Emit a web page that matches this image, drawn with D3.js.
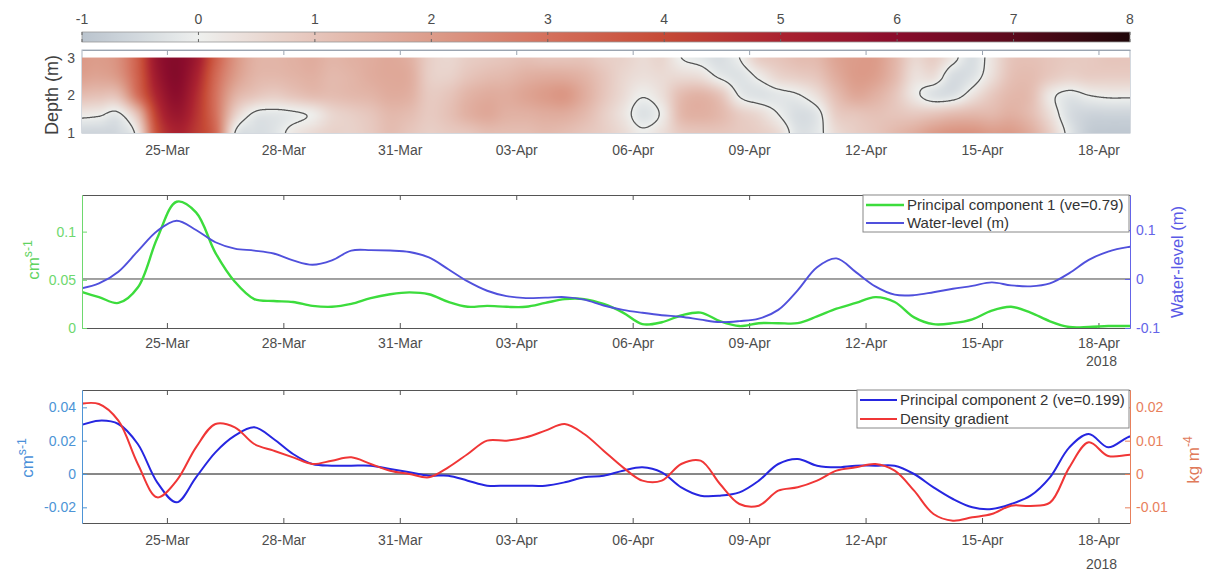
<!DOCTYPE html>
<html><head><meta charset="utf-8">
<script src="https://cdn.jsdelivr.net/npm/d3@7"></script>
<style>
body{margin:0;background:#fff;}
svg{display:block;font-family:"Liberation Sans",Arial,Helvetica,sans-serif;}
</style></head><body>
<svg id="c" width="1215" height="574"></svg>
<script>
// ---------------- DATA ----------------
// common 12-hourly time stamps (UTC)
const times = ["2018-03-22T18","2018-03-23T06","2018-03-23T18","2018-03-24T06","2018-03-24T18","2018-03-25T06","2018-03-25T18","2018-03-26T06","2018-03-26T18","2018-03-27T06",
"2018-03-27T18","2018-03-28T06","2018-03-28T18","2018-03-29T06","2018-03-29T18","2018-03-30T06","2018-03-30T18","2018-03-31T06","2018-03-31T18","2018-04-01T06",
"2018-04-01T18","2018-04-02T06","2018-04-02T18","2018-04-03T06","2018-04-03T18","2018-04-04T06","2018-04-04T18","2018-04-05T06","2018-04-05T18","2018-04-06T06",
"2018-04-06T18","2018-04-07T06","2018-04-07T18","2018-04-08T06","2018-04-08T18","2018-04-09T06","2018-04-09T18","2018-04-10T06","2018-04-10T18","2018-04-11T06",
"2018-04-11T18","2018-04-12T06","2018-04-12T18","2018-04-13T06","2018-04-13T18","2018-04-14T06","2018-04-14T18","2018-04-15T06","2018-04-15T18","2018-04-16T06",
"2018-04-16T18","2018-04-17T06","2018-04-17T18","2018-04-18T06","2018-04-18T18","2018-04-19T06"];

// heat-map field (top panel), one array per depth
const heatDepths = [3, 2.5, 2, 1.5, 1];
const heat_3m   = [2.1,2.0,2.3,3.5,5.6,6.1,5.4,3.5,2.2,1.5, 1.4,1.5,1.6,1.4,1.5,1.6,1.7,1.5,0.8,0.6, 0.8,0.9,1.0,1.1,1.0,1.0,1.0,0.8,0.7,0.5, 0.6,0.0,-0.2,-0.4,0.0,0.8,1.0,1.2,1.3,1.8, 2.0,2.0,1.4,0.6,0.8,0.2,-0.4,0.3,1.0,1.1, 1.0,0.9,0.9,1.0,1.0,1.0];
const heat_2_5m = [1.9,1.8,2.1,3.4,5.4,6.1,5.1,3.2,2.0,1.4, 1.3,1.4,1.5,1.3,1.4,1.6,1.7,1.6,0.8,0.7, 1.0,1.2,1.3,1.5,1.6,1.6,1.4,1.0,0.6,0.4, 0.5,0.5,0.4,-0.1,-0.3,0.1,0.6,0.8,1.0,1.6, 2.0,1.9,1.3,0.4,0.4,-0.4,-0.3,0.4,1.1,1.2, 0.9,0.7,0.8,0.8,0.8,0.8];
const heat_2m   = [1.2,1.1,1.2,3.0,5.0,5.9,4.8,3.0,1.5,1.0, 0.8,1.0,1.2,1.2,1.3,1.4,1.6,1.5,0.9,1.0, 1.4,1.6,1.6,1.8,2.0,2.1,1.6,1.0,0.5,0.05, 0.4,1.2,1.4,1.0,-0.05,-0.3,-0.2,-0.05,0.4,1.2, 1.7,1.5,1.0,0.2,-0.3,-0.3,0.3,0.9,1.3,1.2, 0.2,-0.2,0.0,0.1,0.1,0.1];
const heat_1_5m = [0.2,0.1,-0.1,1.2,4.4,5.5,4.6,3.0,0.8,-0.1, -0.2,-0.1,0.1,0.6,0.8,1.0,1.3,1.2,0.9,1.1, 1.5,1.7,1.5,1.5,1.6,1.6,1.3,0.8,0.3,-0.3, 0.1,1.3,1.5,1.3,0.8,0.5,0.0,-0.4,-0.2,0.8, 1.0,1.1,1.0,0.9,1.0,1.2,1.3,1.3,1.5,1.2, 0.4,-0.4,-0.6,-0.6,-0.6,-0.6];
const heat_1m   = [-0.6,-0.6,-0.5,0.3,3.9,5.0,4.4,3.2,0.0,-0.4, -0.3,0.2,0.5,0.7,0.7,0.9,1.2,1.0,0.8,0.9, 1.0,1.2,1.2,1.2,1.3,1.2,1.0,0.8,0.5,0.1, 0.4,0.9,1.0,1.0,0.9,0.8,0.5,-0.3,-0.2,0.5, 0.8,1.0,1.3,1.6,2.0,2.2,2.2,2.0,2.0,1.6, 0.8,-0.2,-0.8,-0.9,-0.9,-0.9];

// middle panel
const pc1 = [0.038,0.032,0.026,0.042,0.093,0.131,0.120,0.078,0.048,0.030, 0.028,0.027,0.023,0.022,0.025,0.031,0.035,0.037,0.035,0.027, 0.022,0.023,0.022,0.022,0.026,0.030,0.030,0.025,0.016,0.004, 0.006,0.013,0.016,0.007,0.002,0.005,0.005,0.005,0.012,0.020, 0.026,0.032,0.027,0.011,0.004,0.005,0.009,0.018,0.022,0.016, 0.007,0.001,0.001,0.002,0.002,0.002];
const waterLevel = [-0.020,-0.009,0.015,0.057,0.098,0.119,0.100,0.075,0.062,0.058, 0.052,0.038,0.029,0.038,0.058,0.059,0.058,0.055,0.044,0.020, -0.005,-0.024,-0.035,-0.039,-0.038,-0.037,-0.042,-0.054,-0.063,-0.069, -0.074,-0.077,-0.083,-0.088,-0.086,-0.081,-0.063,-0.023,0.024,0.042, 0.014,-0.015,-0.032,-0.033,-0.027,-0.020,-0.014,-0.007,-0.013,-0.015, -0.009,0.012,0.039,0.056,0.065,0.069];

// bottom panel
const pc2 = [0.029,0.032,0.030,0.018,-0.005,-0.017,-0.002,0.013,0.023,0.028, 0.021,0.012,0.006,0.005,0.005,0.005,0.003,0.001,-0.001,-0.001, -0.004,-0.007,-0.007,-0.007,-0.007,-0.005,-0.002,-0.001,0.002,0.004, 0.001,-0.008,-0.013,-0.013,-0.011,-0.004,0.006,0.009,0.005,0.004, 0.005,0.005,0.005,0.000,-0.008,-0.015,-0.020,-0.021,-0.018,-0.013, -0.002,0.016,0.024,0.016,0.022,0.026];
const densityGrad = [0.021,0.021,0.016,0.003,-0.007,-0.002,0.008,0.015,0.014,0.009, 0.007,0.005,0.003,0.004,0.005,0.003,0.001,0.000,-0.001,0.002, 0.006,0.010,0.010,0.011,0.013,0.015,0.012,0.007,0.002,-0.002, -0.002,0.003,0.004,-0.003,-0.009,-0.0095,-0.005,-0.004,-0.002,0.001, 0.002,0.003,0.001,-0.005,-0.012,-0.014,-0.013,-0.012,-0.0095,-0.0096, -0.0086,0.002,0.0095,0.0054,0.0057,0.0063];

// ticks / labels
const dateTicks = ["2018-03-25","2018-03-28","2018-03-31","2018-04-03","2018-04-06","2018-04-09","2018-04-12","2018-04-15","2018-04-18"];
const yearLabel = "2018";
const colorbarTicks = [-1,0,1,2,3,4,5,6,7,8];
const depthTicks = [1,2,3];
const pc1Ticks = [0,0.05,0.1];
const wlTicks = [-0.1,0,0.1];
const pc2Ticks = [-0.02,0,0.02,0.04];
const dgTicks = [-0.01,0,0.01,0.02];
const legend1 = ["Principal component 1 (ve=0.79)","Water-level (m)"];
const legend2 = ["Principal component 2 (ve=0.199)","Density gradient"];
// colormap
const cmapStops  = [-1,-0.5,0,1,2,3,4,5,6,7,8];
const cmapColors = ["#bac4ce","#d3d9de","#eef0ee","#e6c5bb","#dc9c8a","#d4705c","#c64a36","#aa2230","#8a0c2c","#5a0a1c","#1e0608"];

// ---------------- LAYOUT ----------------
const svg = d3.select("#c");
const X0 = 82, X1 = 1130;
const grey = "#4d4d4d";
const T = times.map(d3.utcParse("%Y-%m-%dT%H"));
const tickDates = dateTicks.map(d3.utcParse("%Y-%m-%d"));
const x = d3.scaleUtc().domain([new Date(Date.UTC(2018,2,22,19,30)), new Date(Date.UTC(2018,3,18,19,30))]).range([X0, X1]);
const fmt = d3.utcFormat("%d-%b");
const num = d => String(d);
const cmap = d3.scaleLinear().domain(cmapStops).range(cmapColors).interpolate(d3.interpolateRgb).clamp(true);

function styleAxis(g, color, fs){
  g.attr("font-family", null).attr("font-size", fs || 14);
  g.select(".domain").attr("stroke", color);
  g.selectAll(".tick line").attr("stroke", color);
  g.selectAll(".tick text").attr("fill", color === "#555" ? grey : color);
}
function dateAxes(top, bottom, pad, year){
  const gb = svg.append("g").attr("transform",`translate(0,${bottom})`)
    .call(d3.axisBottom(x).tickValues(tickDates).tickFormat(fmt).tickSizeInner(-5).tickSizeOuter(0).tickPadding(pad));
  styleAxis(gb, "#555");
  const gt = svg.append("g").attr("transform",`translate(0,${top})`)
    .call(d3.axisTop(x).tickValues(tickDates).tickFormat("").tickSizeInner(-5).tickSizeOuter(0));
  styleAxis(gt, "#555");
  if (year) svg.append("text").attr("x", x(tickDates[tickDates.length-1]) + 3).attr("y", year)
    .attr("text-anchor","middle").attr("font-size",14).attr("fill",grey).text(yearLabel);
  return [gb, gt];
}
function vLabel(cx, cy, parts, color, fs){
  const t = svg.append("text").attr("transform",`translate(${cx},${cy}) rotate(-90)`)
    .attr("text-anchor","middle").attr("fill",color).attr("font-size",fs);
  parts.forEach(p => {
    const s = t.append("tspan").text(p[0]);
    if (p[1]) s.attr("baseline-shift","super").attr("font-size", fs*0.72);
  });
}

// ---------------- COLORBAR ----------------
const cb = d3.scaleLinear().domain([-1,8]).range([X0, X1]);
const CB0 = 32, CB1 = 42;
const grad = svg.append("defs").append("linearGradient").attr("id","cbg");
d3.range(0, 91).forEach(i => { const v = -1 + i*0.1;
  grad.append("stop").attr("offset", (i/90)).attr("stop-color", cmap(v)); });
svg.append("rect").attr("x",X0).attr("y",CB0).attr("width",X1-X0).attr("height",CB1-CB0)
  .attr("fill","url(#cbg)").attr("stroke","#9a9a9a").attr("stroke-width",0.8);
svg.append("g").selectAll("line.cbt").data(colorbarTicks).join("line")
  .attr("x1",d=>cb(d)).attr("x2",d=>cb(d)).attr("y1",CB1-3).attr("y2",CB1).attr("stroke","#666");
svg.append("g").selectAll("line.cbt2").data(colorbarTicks).join("line")
  .attr("x1",d=>cb(d)).attr("x2",d=>cb(d)).attr("y1",CB0).attr("y2",CB0+3).attr("stroke","#666");
svg.append("g").selectAll("text").data(colorbarTicks).join("text")
  .attr("x",d=>cb(d)).attr("y",24).attr("text-anchor","middle").attr("font-size",14).attr("fill",grey).text(num);

// ---------------- HEATMAP ----------------
const H_TOP = 50, H_BOT = 133;
const yH = d3.scaleLinear().domain([1, 3.2]).range([H_BOT, H_TOP]);
svg.append("rect").attr("x",X0).attr("y",H_TOP).attr("width",X1-X0).attr("height",H_BOT-H_TOP)
  .attr("fill","#fff").attr("stroke","#aab4c0").attr("stroke-width",1);
const heatRows = [heat_3m, heat_2_5m, heat_2m, heat_1_5m, heat_1m];
const nC = T.length, nR = heatRows.length, t0 = +T[0], dt = 12*3600e3;
function crs(p0,p1,p2,p3,t){ return 0.5*((2*p1)+(-p0+p2)*t+(2*p0-5*p1+4*p2-p3)*t*t+(-p0+3*p1-3*p2+p3)*t*t*t); }
const cl = (v,a,b) => Math.max(a, Math.min(b, v));
function field(px, py){
  const fc = cl((+x.invert(px) - t0)/dt, 0, nC-1);
  const depth = yH.invert(py);
  const fr = cl((heatDepths[0] - depth)/(heatDepths[0]-heatDepths[1]), 0, nR-1);
  const c = Math.min(Math.floor(fc), nC-2), tc = fc - c;
  const r = Math.min(Math.floor(fr), nR-2), tr = fr - r;
  const rowv = [];
  for (let dr=-1; dr<=2; dr++){
    const row = heatRows[cl(r+dr,0,nR-1)];
    rowv.push(crs(row[cl(c-1,0,nC-1)], row[c], row[c+1], row[cl(c+2,0,nC-1)], tc));
  }
  return crs(rowv[0],rowv[1],rowv[2],rowv[3],tr);
}
const hy0 = yH(3), hy1 = yH(1);
const W = X1 - X0, H = Math.round(hy1 - hy0);
const lut = d3.range(0, 901).map(i => d3.rgb(cmap(-1 + i/100)));
const canvas = document.createElement("canvas"); canvas.width = W; canvas.height = H;
const ctx = canvas.getContext("2d"); const img = ctx.createImageData(W, H);
for (let j=0; j<H; j++){
  const py = hy0 + (j+0.5)*(hy1-hy0)/H;
  for (let i=0; i<W; i++){
    const v = field(X0 + i + 0.5, py);
    const c = lut[cl(Math.round((v+1)*100),0,900)];
    const k = (j*W+i)*4; img.data[k]=c.r; img.data[k+1]=c.g; img.data[k+2]=c.b; img.data[k+3]=255;
  }
}
ctx.putImageData(img,0,0);
svg.append("clipPath").attr("id","hclip").append("rect").attr("x",X0).attr("y",hy0).attr("width",W).attr("height",hy1-hy0);
svg.append("image").attr("href",canvas.toDataURL()).attr("x",X0).attr("y",hy0).attr("width",W).attr("height",hy1-hy0)
  .attr("preserveAspectRatio","none");
// zero contour
const pad = 3, gx0 = X0 - pad, gy0 = hy0 - pad, gw = W + 2*pad, gh = Math.round(hy1-hy0) + 2*pad;
const gv = new Float64Array(gw*gh);
for (let j=0;j<gh;j++) for (let i=0;i<gw;i++) gv[j*gw+i] = field(gx0+i+0.5, gy0+j+0.5);
const cont = d3.contours().size([gw,gh]).thresholds([0])(gv);
const cpath = d3.geoPath(d3.geoIdentity().translate([gx0, gy0]));
svg.append("g").attr("clip-path","url(#hclip)").selectAll("path").data(cont).join("path")
  .attr("d", cpath).attr("fill","none").attr("stroke","#555").attr("stroke-width",1.3);
// heat axes
{
  const gt = svg.append("g").attr("transform",`translate(0,${H_TOP})`)
    .call(d3.axisTop(x).tickValues(tickDates).tickFormat("").tickSizeInner(-5).tickSizeOuter(0));
  styleAxis(gt, "#9aa4b0");
  const gb = svg.append("g").attr("transform",`translate(0,${H_BOT})`)
    .call(d3.axisBottom(x).tickValues(tickDates).tickFormat(fmt).tickSizeInner(0).tickSizeOuter(0).tickPadding(12));
  styleAxis(gb, "#555"); gb.select(".domain").remove();
  const gl = svg.append("g").attr("transform",`translate(${X0},0)`)
    .call(d3.axisLeft(yH).tickValues(depthTicks).tickFormat(num).tickSizeInner(0).tickSizeOuter(0).tickPadding(7));
  styleAxis(gl, "#555"); gl.select(".domain").remove();
  vLabel(58, 95, [["Depth (m)"]], "#404040", 18);
}

// ---------------- MIDDLE PANEL ----------------
const P2T = 195, P2B = 328;
const yL2 = d3.scaleLinear().domain([0, 0.138]).range([P2B, P2T]);
const yR2 = d3.scaleLinear().domain([-0.1, 0.1714]).range([P2B, P2T]);
svg.append("clipPath").attr("id","c2").append("rect").attr("x",X0).attr("y",P2T).attr("width",W).attr("height",P2B-P2T);
dateAxes(P2T, P2B, 10, 366);
svg.append("line").attr("x1",X0).attr("x2",X1).attr("y1",yR2(0)).attr("y2",yR2(0)).attr("stroke","#444").attr("stroke-width",1);
const green = "#3cdc3c", wlBlue = "#5050dc";
const line2a = d3.line().x((d,i)=>x(T[i])).y(d=>yL2(d)).curve(d3.curveCatmullRom.alpha(0.5));
const line2b = d3.line().x((d,i)=>x(T[i])).y(d=>yR2(d)).curve(d3.curveCatmullRom.alpha(0.5));
const g2 = svg.append("g").attr("clip-path","url(#c2)");
g2.append("path").attr("d", line2a(pc1)).attr("fill","none").attr("stroke",green).attr("stroke-width",2.4);
g2.append("path").attr("d", line2b(waterLevel)).attr("fill","none").attr("stroke",wlBlue).attr("stroke-width",1.9);
{
  const gl = svg.append("g").attr("transform",`translate(${X0},0)`)
    .call(d3.axisLeft(yL2).tickValues(pc1Ticks).tickFormat(num).tickSizeInner(-5).tickSizeOuter(0).tickPadding(6));
  styleAxis(gl, "#6ed86e");
  const gr = svg.append("g").attr("transform",`translate(${X1},0)`)
    .call(d3.axisRight(yR2).tickValues(wlTicks).tickFormat(num).tickSizeInner(-5).tickSizeOuter(0).tickPadding(6));
  styleAxis(gr, "#6464e8");
  vLabel(39, 260, [["cm"],["s-1", true]], "#5fd35f", 17);
  vLabel(1183, 262, [["Water-level (m)"]], "#5a5ae6", 16.5);
}
// legend 1
{
  const lg = svg.append("g");
  lg.append("rect").attr("x",863).attr("y",P2T).attr("width",266).attr("height",37).attr("fill","#fff").attr("stroke","#888").attr("stroke-width",1);
  const cols = [green, wlBlue];
  legend1.forEach((s,i)=>{
    const yy = 205 + i*18;
    lg.append("line").attr("x1",866).attr("x2",904).attr("y1",yy).attr("y2",yy).attr("stroke",cols[i]).attr("stroke-width",i?1.9:2.4);
    lg.append("text").attr("x",907).attr("y",yy+5).attr("font-size",15).attr("fill","#333").text(s);
  });
}

// ---------------- BOTTOM PANEL ----------------
const P3T = 390, P3B = 523;
const yL3 = d3.scaleLinear().domain([-0.0294, 0.0504]).range([P3B, P3T]);
const yR3 = d3.scaleLinear().domain([-0.0147, 0.0252]).range([P3B, P3T]);
svg.append("clipPath").attr("id","c3").append("rect").attr("x",X0).attr("y",P3T).attr("width",W).attr("height",P3B-P3T);
dateAxes(P3T, P3B, 12, 569);
svg.append("line").attr("x1",X0).attr("x2",X1).attr("y1",yL3(0)).attr("y2",yL3(0)).attr("stroke","#111").attr("stroke-width",1);
const pcBlue = "#2626e0", red = "#f03636";
const line3a = d3.line().x((d,i)=>x(T[i])).y(d=>yL3(d)).curve(d3.curveCatmullRom.alpha(0.5));
const line3b = d3.line().x((d,i)=>x(T[i])).y(d=>yR3(d)).curve(d3.curveCatmullRom.alpha(0.5));
const g3 = svg.append("g").attr("clip-path","url(#c3)");
g3.append("path").attr("d", line3a(pc2)).attr("fill","none").attr("stroke",pcBlue).attr("stroke-width",2);
g3.append("path").attr("d", line3b(densityGrad)).attr("fill","none").attr("stroke",red).attr("stroke-width",2);
{
  const gl = svg.append("g").attr("transform",`translate(${X0},0)`)
    .call(d3.axisLeft(yL3).tickValues(pc2Ticks).tickFormat(num).tickSizeInner(-5).tickSizeOuter(0).tickPadding(6));
  styleAxis(gl, "#4d94d6");
  const gr = svg.append("g").attr("transform",`translate(${X1},0)`)
    .call(d3.axisRight(yR3).tickValues(dgTicks).tickFormat(num).tickSizeInner(-5).tickSizeOuter(0).tickPadding(6));
  styleAxis(gr, "#e8805c");
  vLabel(33, 458, [["cm"],["s-1", true]], "#4a90d9", 17);
  vLabel(1199, 460, [["kg m"],["-4", true]], "#e07a5a", 17);
}
// legend 2
{
  const lg = svg.append("g");
  lg.append("rect").attr("x",857).attr("y",P3T).attr("width",272).attr("height",38).attr("fill","#fff").attr("stroke","#888").attr("stroke-width",1);
  const cols = [pcBlue, red];
  legend2.forEach((s,i)=>{
    const yy = 400 + i*19;
    lg.append("line").attr("x1",860).attr("x2",897).attr("y1",yy).attr("y2",yy).attr("stroke",cols[i]).attr("stroke-width",2);
    lg.append("text").attr("x",900).attr("y",yy+5).attr("font-size",15).attr("fill","#333").text(s);
  });
}
</script>
</body></html>
